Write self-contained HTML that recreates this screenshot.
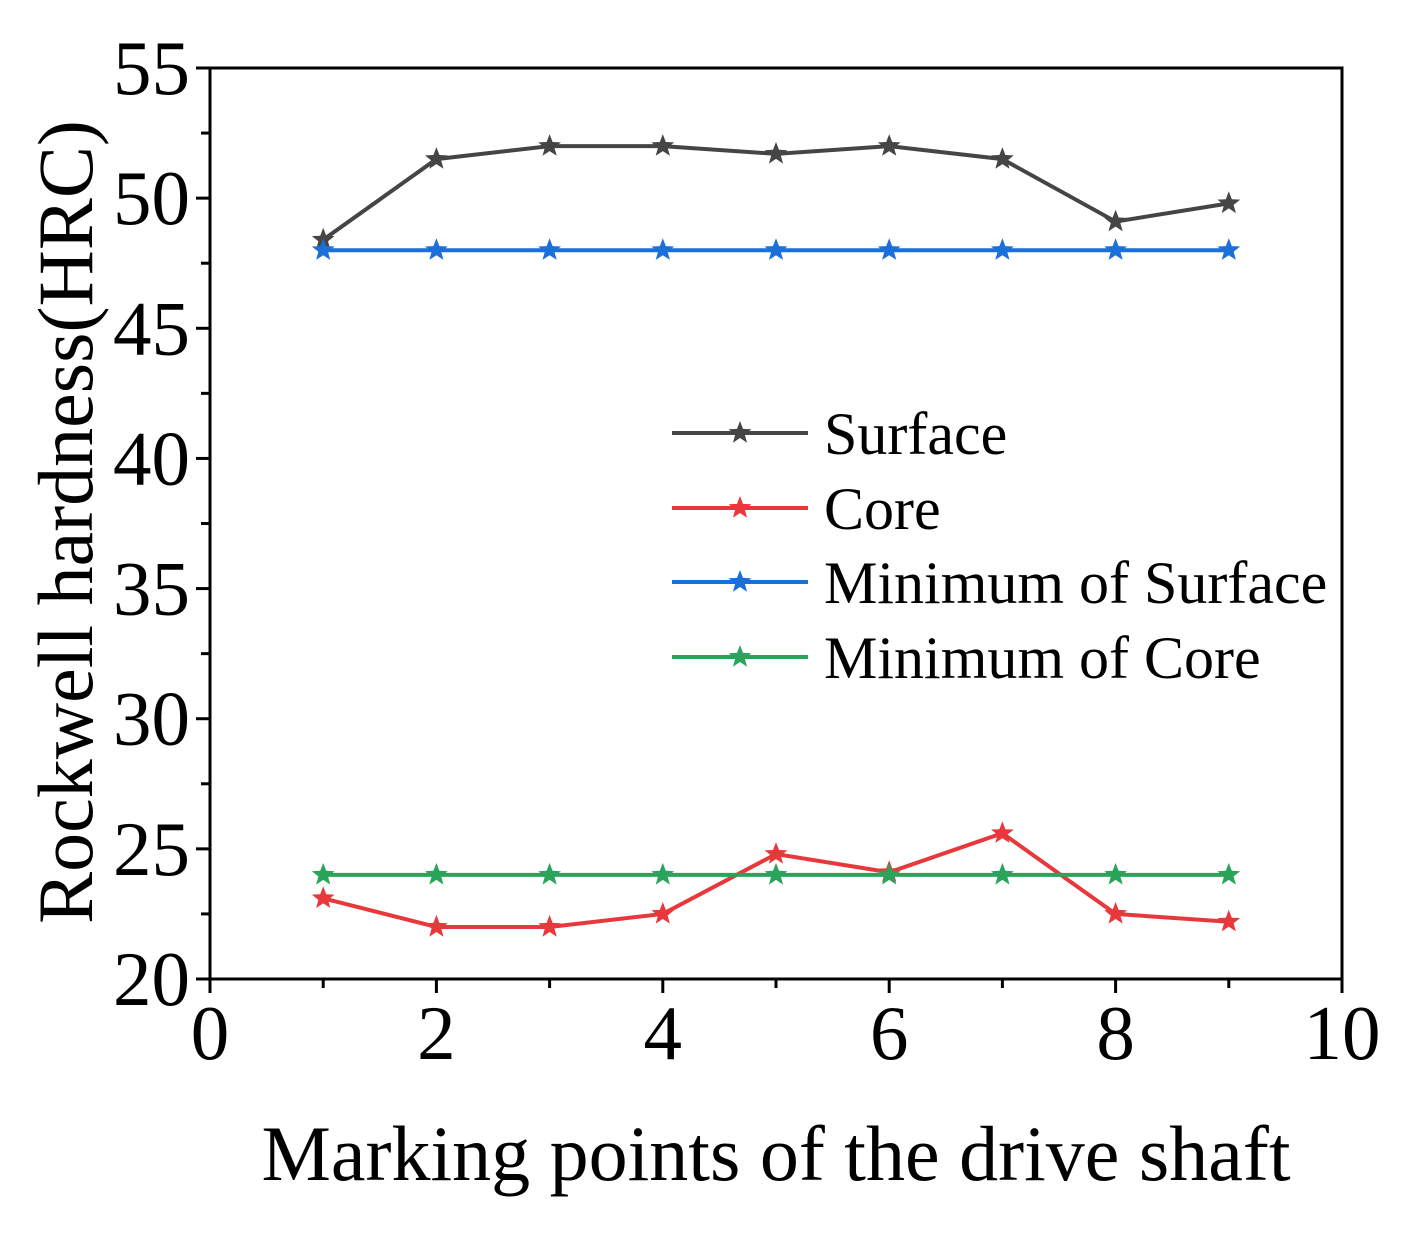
<!DOCTYPE html>
<html><head><meta charset="utf-8"><style>
html,body{margin:0;padding:0;background:#fff;}
svg{display:block;font-family:"Liberation Serif",serif;}
</style></head><body>
<svg id="chart" width="1406" height="1240" viewBox="0 0 1406 1240" xmlns="http://www.w3.org/2000/svg"></svg>
<script>
const xCats = [1,2,3,4,5,6,7,8,9];
const surface = [48.4,51.5,52,52,51.7,52,51.5,49.1,49.8];
const core = [23.1,22,22,22.5,24.8,24.1,25.6,22.5,22.2];
const minSurface = [48,48,48,48,48,48,48,48,48];
const minCore = [24,24,24,24,24,24,24,24,24];
const xTicks = [0,2,4,6,8,10];
const yTicks = [20,25,30,35,40,45,50,55];
const seriesNames = ["Surface","Core","Minimum of Surface","Minimum of Core"];

const NS="http://www.w3.org/2000/svg";
const svg=document.getElementById('chart');
const L=210,R=1342,T=68,B=979;
const xs=v=>L+(v-0)/(10-0)*(R-L);
const ys=v=>B-(v-20)/(55-20)*(B-T);
function el(tag,attrs,parent){const e=document.createElementNS(NS,tag);for(const k in attrs)e.setAttribute(k,attrs[k]);(parent||svg).appendChild(e);return e;}

const frame=el('rect',{x:L,y:T,width:R-L,height:B-T,fill:'none',stroke:'#000','stroke-width':3});



for(let v=0;v<=10;v+=1){
  const major=v%2===0;
  const t=el('line',{x1:xs(v),x2:xs(v),y1:B,y2:B+(major?14:9),stroke:'#000','stroke-width':3});
  
  
}
xTicks.forEach(v=>{
  const t=el('text',{x:xs(v),y:B+80,'text-anchor':'middle','font-size':77,fill:'#000'});
  t.textContent=v;
  
  
});
for(let v=20;v<=55;v+=2.5){
  const major=v%5===0;
  const t=el('line',{x1:L,x2:L-(major?14:9),y1:ys(v),y2:ys(v),stroke:'#000','stroke-width':3});
  
  
}
yTicks.forEach(v=>{
  const t=el('text',{x:L-20,y:ys(v)+26,'text-anchor':'end','font-size':77,fill:'#000'});
  t.textContent=v;
  
  
});
const xt=el('text',{x:776,y:1180,'text-anchor':'middle','font-size':78,fill:'#000'});
xt.textContent='Marking points of the drive shaft';


const yt=el('text',{x:0,y:0,'text-anchor':'middle','font-size':78,fill:'#000',transform:'translate(92,522) rotate(-90)'});
yt.textContent='Rockwell hardness(HRC)';



function starPts(cx,cy,r){const p=[];for(let i=0;i<10;i++){const a=-Math.PI/2+i*Math.PI/5;const rr=i%2?r*0.42:r;p.push((cx+rr*Math.cos(a)).toFixed(1)+','+(cy+rr*Math.sin(a)).toFixed(1));}return p.join(' ');}

const colors=['#454545','#e8383b','#1a6fd9','#2aa45b'];
const data=[surface,core,minSurface,minCore];
const keys=['surface','core','min-surface','min-core'];
data.forEach((vals,si)=>{
  const pl=el('polyline',{points:vals.map((v,i)=>xs(xCats[i])+','+ys(v)).join(' '),fill:'none',stroke:colors[si],'stroke-width':4});
  
  
  vals.forEach((v,i)=>{
    const s=el('polygon',{points:starPts(xs(xCats[i]),ys(v),12),fill:colors[si]});
    
    
  });
});
const legY=[433,508,582,657];
seriesNames.forEach((n,i)=>{
  const ln=el('line',{x1:672,x2:808,y1:legY[i],y2:legY[i],stroke:colors[i],'stroke-width':4});
  
  
  const st=el('polygon',{points:starPts(740,legY[i],12),fill:colors[i]});
  
  
  const tx=el('text',{x:824,y:legY[i]+21,'font-size':60,fill:'#000'});
  tx.textContent=n;
  
  
});
</script>
</body></html>
